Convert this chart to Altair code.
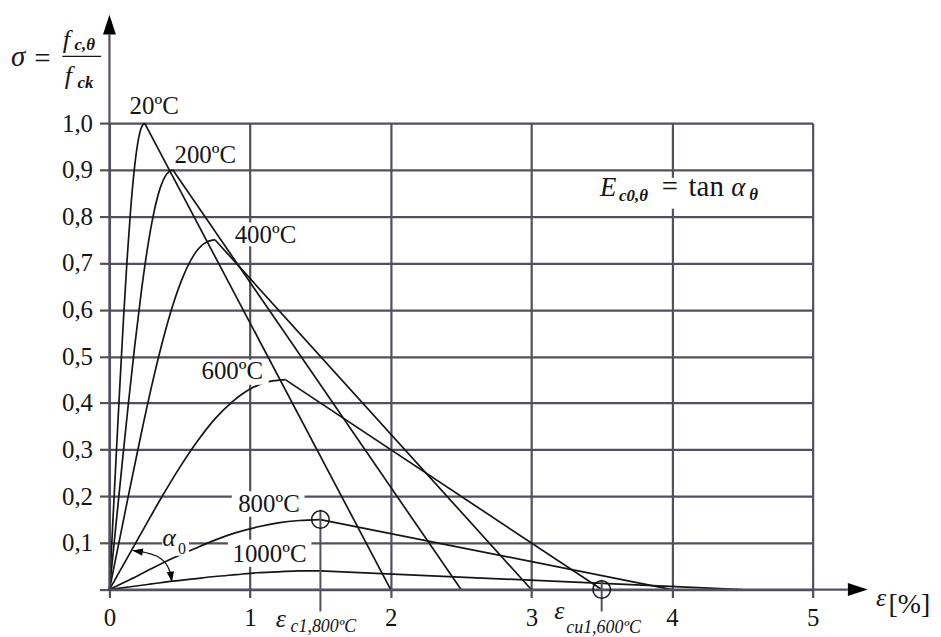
import altair as alt
import pandas as pd

# ---------------- data ----------------
# strain eps [%] and relative stress sigma for each temperature curve
# (the last point of each list is the end of the straight descending branch)
eps_20 = [0, 0.025, 0.05, 0.075, 0.10, 0.125, 0.15, 0.175, 0.20, 0.225, 0.25, 2.0]
sig_20 = [0, 0.150, 0.299, 0.444, 0.581, 0.706, 0.812, 0.896, 0.955, 0.989, 1.000, 0]

eps_200 = [0, 0.045, 0.09, 0.135, 0.18, 0.225, 0.27, 0.315, 0.36, 0.405, 0.45, 2.5]
sig_200 = [0, 0.135, 0.269, 0.400, 0.523, 0.635, 0.731, 0.807, 0.860, 0.890, 0.900, 0]

eps_400 = [0, 0.075, 0.15, 0.225, 0.30, 0.375, 0.45, 0.525, 0.60, 0.675, 0.75, 3.0]
sig_400 = [0, 0.112, 0.224, 0.333, 0.436, 0.529, 0.609, 0.672, 0.717, 0.742, 0.750, 0]

eps_600 = [0, 0.125, 0.25, 0.375, 0.50, 0.625, 0.75, 0.875, 1.0, 1.125, 1.25, 3.5]
sig_600 = [0, 0.067, 0.134, 0.200, 0.262, 0.318, 0.366, 0.403, 0.430, 0.445, 0.450, 0]

eps_800 = [0, 0.15, 0.30, 0.45, 0.60, 0.75, 0.90, 1.05, 1.20, 1.35, 1.5, 4.0]
sig_800 = [0, 0.022, 0.045, 0.067, 0.087, 0.106, 0.122, 0.134, 0.143, 0.148, 0.150, 0]

eps_1000 = [0, 0.15, 0.30, 0.45, 0.60, 0.75, 0.90, 1.05, 1.20, 1.35, 1.5, 4.5]
sig_1000 = [0, 0.006, 0.012, 0.018, 0.023, 0.028, 0.032, 0.036, 0.038, 0.040, 0.040, 0]

temps = ["20ºC", "200ºC", "400ºC", "600ºC", "800ºC", "1000ºC"]
curve_eps = [eps_20, eps_200, eps_400, eps_600, eps_800, eps_1000]
curve_sig = [sig_20, sig_200, sig_400, sig_600, sig_800, sig_1000]

x_ticks = [0, 1, 2, 3, 4, 5]
y_ticks = [0, 0.1, 0.2, 0.3, 0.4, 0.5, 0.6, 0.7, 0.8, 0.9, 1.0]

# marked points (eps_c1 at 800ºC, eps_cu1 at 600ºC)
mark_eps = [1.5, 3.5]
mark_sig = [0.15, 0.0]

# alpha_0 angle arc
arc_eps = [0.165, 0.283, 0.366, 0.412, 0.436, 0.443]
arc_sig = [0.084, 0.077, 0.066, 0.0505, 0.0305, 0.0164]

# ---------------- annotation layout ----------------
label_eps = [0.318, 0.681, 1.109, 0.873, 1.134, 1.138]
label_sig = [1.036, 0.932, 0.761, 0.468, 0.184, 0.077]

box_e1 = [0.849, 0.616, 0.870, 0.842, 3.45]
box_e2 = [1.366, 1.132, 1.387, 1.436, 4.75]
box_s1 = [0.736, 0.439, 0.156, 0.049, 0.8166]
box_s2 = [0.787, 0.4925, 0.211, 0.1066, 0.8827]

GRID = "#554f5d"
INK = "#151515"
FONT = "Liberation Serif"

xs = alt.Scale(domain=[0, 5], nice=False, zero=False)
ys = alt.Scale(domain=[0, 1], nice=False, zero=False)


def X(f="e"):
    return alt.X(f"{f}:Q", scale=xs, title=None)


def Y(f="s"):
    return alt.Y(f"{f}:Q", scale=ys, title=None)


rise_rows, fall_rows = [], []
for name, es, ss in zip(temps, curve_eps, curve_sig):
    n = len(es)
    for i, (e, s) in enumerate(zip(es, ss)):
        row = {"curve": name, "i": i, "e": e, "s": s}
        if i <= n - 2:
            rise_rows.append(row)
        if i >= n - 2:
            fall_rows.append(row)
rise_df = pd.DataFrame(rise_rows)
fall_df = pd.DataFrame(fall_rows)

x_axis = alt.Axis(values=x_ticks, format="d", title=None)
y_axis = alt.Axis(
    values=y_ticks, title=None,
    labelExpr="datum.value < 0.05 ? '' : replace(format(datum.value, '.1f'), '.', ',')",
)

rise = alt.Chart(rise_df).mark_line(color=INK, strokeWidth=1.7, interpolate="monotone").encode(
    x=alt.X("e:Q", scale=xs, axis=x_axis),
    y=alt.Y("s:Q", scale=ys, axis=y_axis),
    detail="curve:N",
    order="i:Q",
)
fall = alt.Chart(fall_df).mark_line(color=INK, strokeWidth=1.7).encode(
    x=X("e"), y=Y("s"), detail="curve:N", order="i:Q"
)

box_df = pd.DataFrame({"e": box_e1, "e2": box_e2, "s": box_s1, "s2": box_s2})
boxes = alt.Chart(box_df).mark_rect(color="white").encode(
    x=X("e"), x2="e2", y=Y("s"), y2="s2"
)
alpha_box = alt.Chart(pd.DataFrame({"e": [0.375], "e2": [0.566], "s": [0.0725], "s2": [0.119]})).mark_rect(
    color="white").encode(x=X("e"), x2="e2", y=Y("s"), y2="s2")

# axis lines with arrows
xline = alt.Chart(pd.DataFrame({"e": [0], "e2": [5.25], "s": [0]})).mark_rule(
    color=GRID, strokeWidth=2.2).encode(x=X("e"), x2="e2", y=Y("s"))
yline = alt.Chart(pd.DataFrame({"e": [0], "s": [0], "s2": [1.19]})).mark_rule(
    color=GRID, strokeWidth=2.2).encode(x=X("e"), y=Y("s"), y2="s2")
arrows = alt.Chart(pd.DataFrame({"e": [5.321, 0], "s": [0, 1.211], "a": [90, 0]})).mark_point(
    shape="M0,-1L0.65,1L-0.65,1Z", size=400, filled=True, color="black", opacity=1
).encode(x=X("e"), y=Y("s"), angle=alt.Angle("a:Q", scale=None))

# markers
mark_df = pd.DataFrame({"e": mark_eps, "s": mark_sig})
circles = alt.Chart(mark_df).mark_point(shape="circle", size=310, filled=False, color=INK,
                                        strokeWidth=1.5, opacity=1).encode(x=X("e"), y=Y("s"))
drop_df = pd.DataFrame({"e": mark_eps, "s": [0.171, 0.021], "s2": [-0.047, -0.047]})
drops = alt.Chart(drop_df).mark_rule(color=GRID, strokeWidth=2).encode(x=X("e"), y=Y("s"), y2="s2")

# alpha arc
arc_df = pd.DataFrame({"e": arc_eps, "s": arc_sig, "i": list(range(len(arc_eps)))})
arc = alt.Chart(arc_df).mark_line(color=INK, strokeWidth=1.3, interpolate="monotone").encode(
    x=X("e"), y=Y("s"), order="i:Q")
arc_heads = alt.Chart(pd.DataFrame({"e": [0.200, 0.4387], "s": [0.082, 0.0271], "a": [280, 171]})).mark_point(
    shape="M0,-1L0.7,1L-0.7,1Z", size=110, filled=True, color="black", opacity=1
).encode(x=X("e"), y=Y("s"), angle=alt.Angle("a:Q", scale=None))


def text_layer(es, ss, ts, size, style="normal", weight="normal", align="left", baseline="alphabetic"):
    df = pd.DataFrame({"e": es, "s": ss, "t": ts})
    return alt.Chart(df).mark_text(
        font=FONT, fontSize=size, fontStyle=style, fontWeight=weight,
        align=align, baseline=baseline, color=INK
    ).encode(x=X("e"), y=Y("s"), text="t:N")


curve_labels = text_layer(label_eps, label_sig, temps, 25, align="center", baseline="middle")

italic_sym = text_layer(
    [-0.3326, -0.318, 5.45, 1.1816, 3.163, 0.375],
    [1.160, 1.0832, -0.0362, -0.081, -0.0633, 0.0938],
    ["f", "f", "ε", "ε", "ε", "α"],
    26, style="italic",
)
sigma = text_layer([-0.70], [1.1215], ["σ"], 29, style="italic")
italic_E = text_layer([3.488, 4.422], [0.8443, 0.8443], ["E", "α"], 27, style="italic")
regular_big = text_layer(
    [-0.535, 3.927, 4.118],
    [1.118, 0.8443, 0.8443],
    ["=", "=", "tan"],
    29,
)
percent = text_layer([5.54], [-0.0512], ["[%]"], 28)
subs_bold = text_layer(
    [-0.2477, -0.2264, 3.623, 4.55],
    [1.156, 1.0753, 0.8337, 0.8358],
    ["c,θ", "ck", "c0,θ", "θ"],
    17, style="italic", weight="bold",
)
subs_axis = text_layer(
    [1.2878, 3.248],
    [-0.090, -0.093],
    ["c1,800ºC", "cu1,600ºC"],
    18, style="italic",
)
alpha_sub = text_layer([0.488], [0.0768], ["0"], 16)

frac_bar = alt.Chart(pd.DataFrame({"e": [-0.335], "e2": [-0.059], "s": [1.143]})).mark_rule(
    color=INK, strokeWidth=1.5).encode(x=X("e"), x2="e2", y=Y("s"))

chart = alt.layer(
    rise, fall, boxes, xline, yline, drops, arc, alpha_box, circles, arrows, arc_heads,
    frac_bar, curve_labels, italic_sym, sigma, italic_E, regular_big, percent, subs_bold, subs_axis,
    alpha_sub,
).properties(
    width=707, height=469,
    padding={"left": 102, "top": 114, "right": 121, "bottom": 46},
    autosize=alt.AutoSizeParams(type="none"),
    background="white",
).configure_view(
    stroke="transparent"
).configure_axis(
    grid=True, gridColor=GRID, gridWidth=2.2, gridOpacity=1,
    ticks=True, tickColor=GRID, tickWidth=2.2, domain=False,
    labelFont=FONT, labelFontSize=25, labelColor=INK,
    labelFlush=False, labelOverlap=False,
).configure_axisX(
    tickSize=8, labelPadding=8,
).configure_axisY(
    tickSize=10, labelPadding=7,
)

chart.save("out.html", embed_options={"renderer": "svg", "actions": False})
